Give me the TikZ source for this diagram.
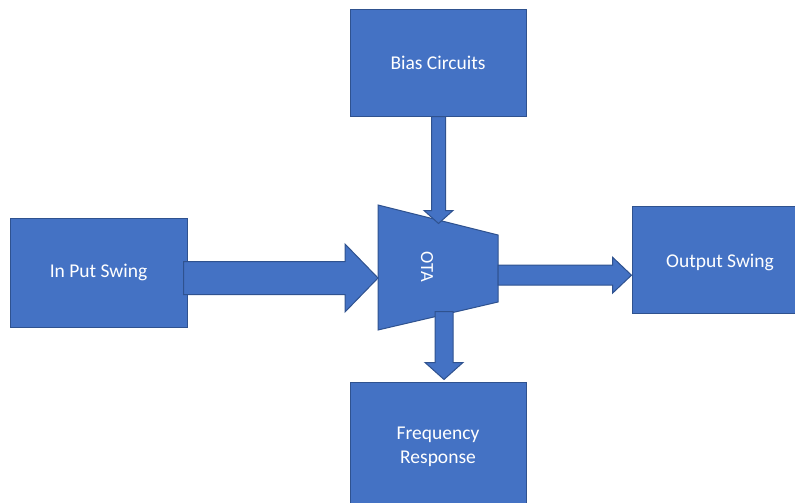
\documentclass[tikz,border=0pt]{standalone}
\usepackage{fontspec}
\setmainfont{Carlito}
\usetikzlibrary{calc}
\definecolor{boxfill}{HTML}{4472C4}
\definecolor{boxline}{HTML}{2F528F}
\tikzset{
  blk/.style={draw=boxline, fill=boxfill, line width=1pt, text=white, font=\fontsize{19.5}{24}\selectfont, inner sep=0pt, align=center},
  lbl/.style={text=white, font=\fontsize{19.5}{24}\selectfont, inner sep=0pt},
  arr/.style={draw=boxline, fill=boxfill, line width=1pt, line join=miter},
}
% horizontal block arrow: #1 start, #2 tip, #3 shaft half width, #4 head half width, #5 head length
\newcommand{\harrow}[5]{%
  \path[arr] let \p1=#1, \p2=#2 in
    (\x1,\y1-#3) -- (\x2-#5,\y1-#3) -- (\x2-#5,\y1-#4) -- (\x2,\y1) --
    (\x2-#5,\y1+#4) -- (\x2-#5,\y1+#3) -- (\x1,\y1+#3) -- cycle;}
% downward block arrow
\newcommand{\varrow}[5]{%
  \path[arr] let \p1=#1, \p2=#2 in
    (\x1-#3,\y1) -- (\x1-#3,\y2+#5) -- (\x1-#4,\y2+#5) -- (\x1,\y2) --
    (\x1+#4,\y2+#5) -- (\x1+#3,\y2+#5) -- (\x1+#3,\y1) -- cycle;}
\begin{document}
\begin{tikzpicture}[x=1pt,y=-1pt]
\useasboundingbox (0,0) rectangle (795,503);
\clip (0,0) rectangle (795,503);
\node[blk, minimum width=176pt, minimum height=106pt] (bias) at (438,63) {Bias Circuits};
\node[blk, minimum width=177pt, minimum height=109pt] (inp) at (98.5,272.5) {In Put Swing};
\node[blk, minimum width=164pt, minimum height=107pt] (out) at (714,259.5) {};
\node[lbl] (outtext) at (720,262) {Output Swing};
\node[blk, minimum width=176pt, minimum height=130pt] (freq) at (438,447) {Frequency\\Response};
% OTA trapezoid
\coordinate (otaTL) at (378,205);
\coordinate (otaTR) at (498,235);
\coordinate (otaBR) at (498,302);
\coordinate (otaBL) at (378,330);
\path[arr] (otaTL) -- (otaTR) -- (otaBR) -- (otaBL) -- cycle;
\node[text=white, font=\fontsize{18.5}{22}\selectfont, rotate=-90] (ota) at (427,267) {OTA};
% connectors
\harrow{($(inp.east)+(-4,5.5)$)}{($(otaTL)!0.584!(otaBL)$)}{16.5}{34}{33}
\harrow{($(otaTR)!0.6!(otaBR)$)}{($(out.west)+(0,15.5)$)}{10}{18}{19}
\varrow{($(bias.south)+(0.5,0)$)}{($(bias.south)+(0.5,107)$)}{7}{14.5}{13}
\varrow{($(freq.north)+(6,-70)$)}{($(freq.north)+(6,-2)$)}{9}{19}{17}
\end{tikzpicture}
\end{document}
